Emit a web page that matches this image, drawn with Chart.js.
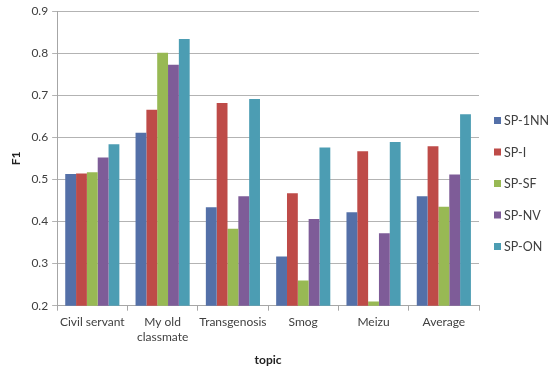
<!DOCTYPE html>
<html>
<head>
<meta charset="utf-8">
<script src="https://cdn.jsdelivr.net/npm/chart.js@4"></script>
<style>
  html, body { margin: 0; padding: 0; background: #fff; }
  #wrap { width: 550px; height: 371px; }
</style>
</head>
<body>
<div id="wrap"><canvas id="myChart" width="550" height="371"></canvas></div>
<script>
const topics = ['Civil servant', ['My old', 'classmate'], 'Transgenosis', 'Smog', 'Meizu', 'Average'];
const sp1nn = [0.513, 0.611, 0.434, 0.317, 0.422, 0.460];
const spI   = [0.514, 0.666, 0.682, 0.467, 0.567, 0.579];
const spSF  = [0.517, 0.801, 0.383, 0.260, 0.210, 0.435];
const spNV  = [0.552, 0.773, 0.460, 0.406, 0.372, 0.512];
const spON  = [0.584, 0.834, 0.691, 0.576, 0.589, 0.655];

const font = 'Lato, "Open Sans", sans-serif';
const textColor = '#404040';

function ds(label, data, color) {
  return {
    label: label,
    data: data,
    backgroundColor: color,
    borderWidth: 0,
    categoryPercentage: 0.77,
    barPercentage: 1.0
  };
}

// legend drawn by hand so it sits like the Excel one (narrow, widely spaced)
const sideLegend = {
  id: 'sideLegend',
  afterDraw(chart) {
    const c = chart.ctx;
    const sets = chart.data.datasets;
    const step = 31.5;
    const x = chart.chartArea.right + 15;
    let y = chart.height / 2 - 2 - step * (sets.length - 1) / 2;
    c.save();
    c.font = '12.5px ' + font;
    c.textBaseline = 'middle';
    sets.forEach(s => {
      c.fillStyle = s.backgroundColor;
      c.fillRect(x, y - 3.5, 7, 7);
      c.fillStyle = textColor;
      c.fillText(s.label, x + 10, y + 0.5);
      y += step;
    });
    c.restore();
  }
};

const ctx = document.getElementById('myChart').getContext('2d');
const myChart = new Chart(ctx, {
  type: 'bar',
  data: {
    labels: topics,
    datasets: [
      ds('SP-1NN', sp1nn, '#5470A8'),
      ds('SP-I', spI, '#BE4B48'),
      ds('SP-SF', spSF, '#98B954'),
      ds('SP-NV', spNV, '#7E5C98'),
      ds('SP-ON', spON, '#4C9DB3')
    ]
  },
  options: {
    responsive: false,
    animation: false,
    layout: { padding: { left: 5, right: 71, top: 6, bottom: 4 } },
    scales: {
      x: {
        grid: {
          offset: true,
          drawOnChartArea: false,
          color: '#a6a6a6',
          tickLength: 5
        },
        border: { color: '#a6a6a6' },
        ticks: {
          autoSkip: false,
          color: textColor,
          font: { family: font, size: 12, lineHeight: 1.33 },
          maxRotation: 0,
          padding: 3
        },
        title: { display: true, text: 'topic', color: '#222', font: { family: font, size: 12, weight: 'bold' }, padding: { top: 4, bottom: 0 } }
      },
      y: {
        min: 0.2,
        max: 0.9,
        ticks: {
          stepSize: 0.1,
          color: textColor,
          font: { family: font, size: 12 },
          padding: 4,
          callback: v => v.toFixed(1)
        },
        grid: { color: '#b3b3b3', tickLength: 5 },
        border: { color: '#a6a6a6' },
        title: { display: true, text: 'F1', color: '#222', font: { family: font, size: 12, weight: 'bold' }, padding: { bottom: 4 } }
      }
    },
    plugins: {
      legend: { display: false },
      tooltip: { enabled: false }
    }
  },
  plugins: [sideLegend]
});
</script>
</body>
</html>
